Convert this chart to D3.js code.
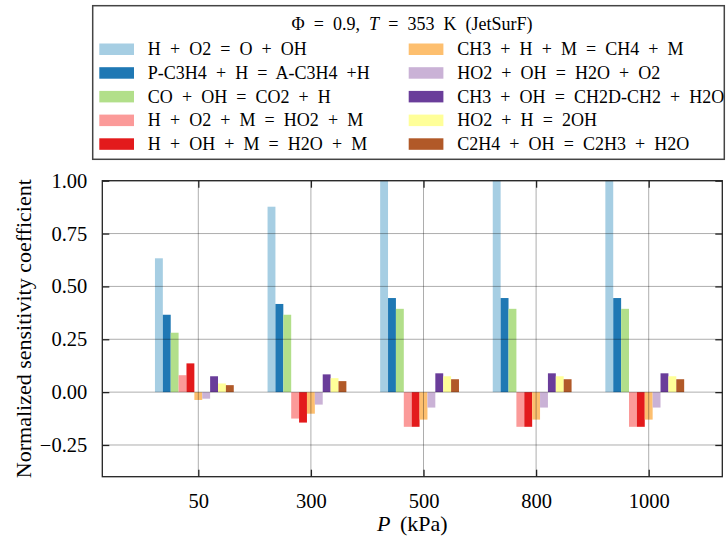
<!DOCTYPE html>
<html>
<head>
<meta charset="utf-8">
<script src="https://cdn.jsdelivr.net/npm/d3@7"></script>
<style>
  html, body { margin: 0; padding: 0; background: #fff; }
  svg { display: block; }
  text { font-family: "Liberation Serif", "Times New Roman", serif; fill: #000; }
</style>
</head>
<body>
<svg id="chart" width="726" height="536"></svg>
<script>
// ---- data ----
const pressures = ["50", "300", "500", "800", "1000"];
const reactions = [
  "H + O2 = O + OH",
  "P-C3H4 + H = A-C3H4 +H",
  "CO + OH = CO2 + H",
  "H + O2 + M = HO2 + M",
  "H + OH + M = H2O + M",
  "CH3 + H + M = CH4 + M",
  "HO2 + OH = H2O + O2",
  "CH3 + OH = CH2D-CH2 + H2O",
  "HO2 + H = 2OH",
  "C2H4 + OH = C2H3 + H2O"
];
// sensitivity per reaction, one value per pressure (50, 300, 500, 800, 1000 kPa)
const s_H_O2_O_OH      = [0.633, 0.877, 1.08, 1.08, 1.08];
const s_PC3H4_H        = [0.366, 0.417, 0.445, 0.445, 0.445];
const s_CO_OH          = [0.281, 0.366, 0.394, 0.394, 0.394];
const s_H_O2_M         = [0.080, -0.125, -0.164, -0.164, -0.164];
const s_H_OH_M         = [0.136, -0.144, -0.164, -0.164, -0.164];
const s_CH3_H_M        = [-0.037, -0.102, -0.130, -0.130, -0.130];
const s_HO2_OH         = [-0.031, -0.059, -0.073, -0.073, -0.073];
const s_CH3_OH         = [0.075, 0.084, 0.089, 0.089, 0.089];
const s_HO2_H          = [0.041, 0.066, 0.075, 0.075, 0.075];
const s_C2H4_OH        = [0.033, 0.052, 0.061, 0.061, 0.061];
const seriesValues = [s_H_O2_O_OH, s_PC3H4_H, s_CO_OH, s_H_O2_M, s_H_OH_M,
                      s_CH3_H_M, s_HO2_OH, s_CH3_OH, s_HO2_H, s_C2H4_OH];
const yTicks = [-0.25, 0, 0.25, 0.5, 0.75, 1.0];
const yLabel = "Normalized sensitivity coefficient";
const legendTitle = ["\u03A6 = 0.9, ", "T", " = 353 K (JetSurF)"];

// ---- style ----
const palette = ["#a6cee3", "#1f78b4", "#b2df8a", "#fb9a99", "#e31a1c",
                 "#fdbf6f", "#cab2d6", "#6a3d9a", "#ffff99", "#b15928"];
const FONT = '"Liberation Serif", "Times New Roman", serif';

// ---- layout ----
const svg = d3.select("#chart");
const L = 102.3, R = 722.3, T = 180.7, B = 476.7;
const barW = 0.07;
const x = d3.scaleLinear().domain([-0.8526, 4.6536]).range([L, R]);
const y = d3.scaleLinear().domain([-0.4, 1.0]).range([B, T]);
const color = d3.scaleOrdinal().domain(reactions).range(palette);

svg.append("clipPath").attr("id", "plotclip")
  .append("rect").attr("x", L).attr("y", T).attr("width", R - L).attr("height", B - T);

// bars
const plot = svg.append("g").attr("clip-path", "url(#plotclip)");
reactions.forEach((r, i) => {
  plot.append("g").selectAll("rect")
    .data(seriesValues[i])
    .join("rect")
    .attr("x", (v, j) => x(j + (i - 5) * barW - barW / 2))
    .attr("width", x(barW) - x(0))
    .attr("y", v => y(Math.max(0, v)))
    .attr("height", v => Math.abs(y(v) - y(0)))
    .attr("fill", color(r));
});

// grid (drawn above bars)
const grid = svg.append("g").attr("clip-path", "url(#plotclip)")
  .attr("stroke", "rgba(0,0,0,0.32)").attr("stroke-width", 1);
grid.selectAll("line.h").data(yTicks).join("line").attr("class", "h")
  .attr("x1", L).attr("x2", R).attr("y1", d => y(d)).attr("y2", d => y(d));
grid.selectAll("line.v").data(pressures).join("line").attr("class", "v")
  .attr("x1", (d, j) => x(j)).attr("x2", (d, j) => x(j)).attr("y1", T).attr("y2", B);

// axes with inward ticks
const fmt = d => (d < 0 ? "\u2212" : "") + Math.abs(d).toFixed(2);
const yAxisL = d3.axisLeft(y).tickValues(yTicks).tickSize(-7).tickPadding(15).tickFormat(fmt);
const yAxisR = d3.axisRight(y).tickValues(yTicks).tickSize(-7).tickFormat("");
const xAxisB = d3.axisBottom(x).tickValues(d3.range(pressures.length)).tickSize(-7).tickPadding(17)
  .tickFormat(j => pressures[j]);
const xAxisT = d3.axisTop(x).tickValues(d3.range(pressures.length)).tickSize(-7).tickFormat("");

function styleAxis(g) {
  g.attr("font-family", null);
  g.select(".domain").remove();
  g.selectAll(".tick line").attr("stroke", "#222").attr("stroke-width", 1.3);
  g.selectAll(".tick text").style("font-family", FONT)
    .style("font-size", "20.5px").attr("fill", "#000");
}
svg.append("g").attr("transform", `translate(${L},0)`).call(yAxisL).call(styleAxis);
svg.append("g").attr("transform", `translate(${R},0)`).call(yAxisR).call(styleAxis);
svg.append("g").attr("transform", `translate(0,${B})`).call(xAxisB).call(styleAxis);
svg.append("g").attr("transform", `translate(0,${T})`).call(xAxisT).call(styleAxis);

// spines
svg.append("rect").attr("x", L).attr("y", T).attr("width", R - L).attr("height", B - T)
  .attr("fill", "none").attr("stroke", "#222").attr("stroke-width", 1.3);

// axis labels
svg.append("text").attr("transform", `translate(31,${(T + B) / 2}) rotate(-90)`)
  .attr("text-anchor", "middle").style("font-family", FONT).style("font-size", "22px").text(yLabel);
const xl = svg.append("text").attr("x", (L + R) / 2).attr("y", 531)
  .attr("text-anchor", "middle").style("font-family", FONT).style("font-size", "22px")
  .style("word-spacing", "4px");
xl.append("tspan").style("font-style", "italic").text("P");
xl.append("tspan").text(" (kPa)");

// legend
const lg = svg.append("g");
lg.append("rect").attr("x", 92.7).attr("y", 5.7).attr("width", 631.6).attr("height", 153.6)
  .attr("fill", "#fff").attr("stroke", "#444").attr("stroke-width", 1.5);
const tt = lg.append("text").attr("x", 412).attr("y", 29.5).attr("text-anchor", "middle")
  .style("font-family", FONT).style("font-size", "18px").style("word-spacing", "4.6px");
tt.append("tspan").text(legendTitle[0]);
tt.append("tspan").style("font-style", "italic").text(legendTitle[1]);
tt.append("tspan").text(legendTitle[2]);
const items = lg.selectAll("g.item").data(reactions).join("g").attr("class", "item")
  .attr("transform", (d, i) => `translate(${i < 5 ? 99.3 : 408.7},${43.5 + (i % 5) * 23.7})`);
items.append("rect").attr("width", 34.7).attr("height", 11.5).attr("fill", d => color(d));
items.append("text").attr("x", 48.5).attr("y", 11.6)
  .style("font-family", FONT).style("font-size", "18px").style("word-spacing", "4.6px").text(d => d);
</script>
</body>
</html>
